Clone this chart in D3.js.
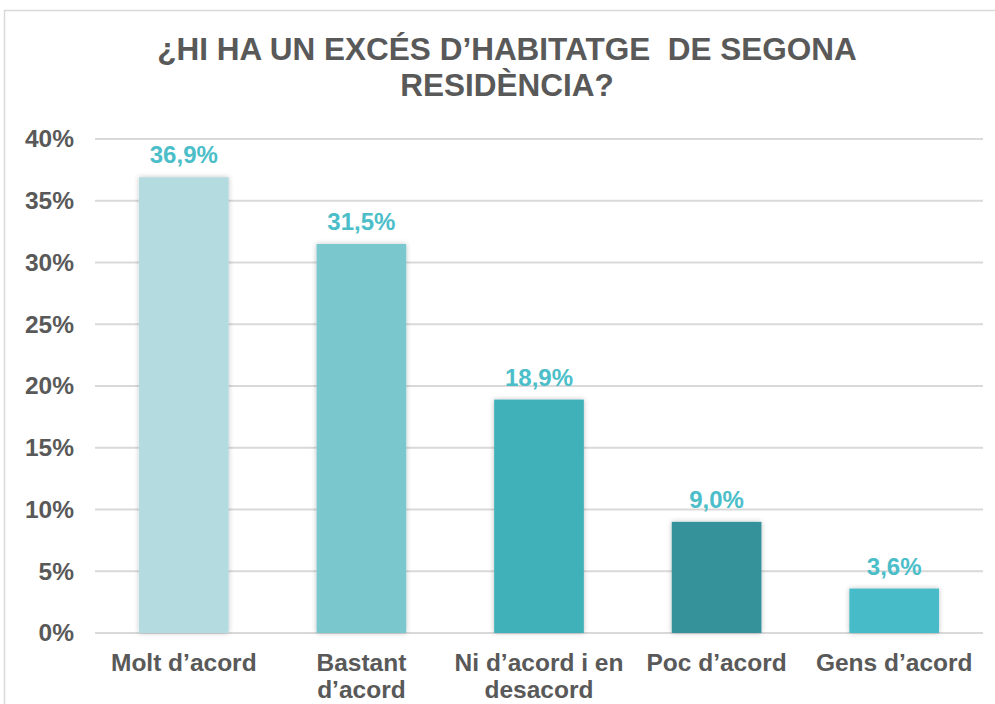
<!DOCTYPE html>
<html>
<head>
<meta charset="utf-8">
<script src="https://cdn.jsdelivr.net/npm/d3@7"></script>
<style>
  body { margin: 0; background: #fff; }
  text { font-family: "Liberation Sans", Arial, sans-serif; }
</style>
</head>
<body>
<svg id="chart" width="995" height="704"></svg>
<script>
const categories = [["Molt d’acord"], ["Bastant", "d’acord"], ["Ni d’acord i en", "desacord"], ["Poc d’acord"], ["Gens d’acord"]];
const values = [36.9, 31.5, 18.9, 9.0, 3.6];
const barColors = ["#b4dce0", "#7ac7ce", "#40b0b9", "#36919a", "#47bcc8"];
const yTicks = [0, 5, 10, 15, 20, 25, 30, 35, 40];
const titleLines = ["¿HI HA UN EXCÉS D’HABITATGE  DE SEGONA", "RESIDÈNCIA?"];

const svg = d3.select("#chart");
const textColor = "#595959";

// chart frame
svg.append("rect")
    .attr("x", 4.5).attr("y", 10.5)
    .attr("width", 1000).attr("height", 700)
    .attr("fill", "#fff")
    .attr("stroke", "#d9d9d9")
    .attr("stroke-width", 1.5);

const defs = svg.append("defs");
const shadow = defs.append("filter").attr("id", "shadow")
    .attr("x", "-20%").attr("y", "-20%").attr("width", "140%").attr("height", "140%");
shadow.append("feDropShadow")
    .attr("dx", 0).attr("dy", 0).attr("stdDeviation", 2.5)
    .attr("flood-color", "#000").attr("flood-opacity", 0.25);

// title
svg.append("text")
    .attr("x", 507).attr("y", 60)
    .attr("text-anchor", "middle")
    .style("white-space", "pre")
    .style("font-size", "31.5px").style("font-weight", "bold")
    .attr("fill", textColor)
    .selectAll("tspan").data(titleLines).enter().append("tspan")
    .attr("x", 507).attr("dy", (d, i) => i ? 36 : 0)
    .text(d => d);

const x = d3.scaleBand()
    .domain(d3.range(values.length))
    .range([95, 983])
    .paddingInner(0.495).paddingOuter(0.2475);

const y = d3.scaleLinear().domain([0, 40]).range([633, 139]);

// gridlines
svg.append("g")
    .selectAll("line").data(yTicks).enter().append("line")
    .attr("x1", 95).attr("x2", 983)
    .attr("y1", d => y(d)).attr("y2", d => y(d))
    .attr("stroke", "#d9d9d9").attr("stroke-width", 2);

// y axis labels
const yAxis = svg.append("g")
    .attr("transform", "translate(74,0)")
    .call(d3.axisLeft(y).tickValues(yTicks).tickSize(0).tickPadding(0).tickFormat(d => d + "%"));
yAxis.select(".domain").remove();
yAxis.selectAll("text")
    .attr("fill", textColor)
    .style("font-size", "24.5px").style("font-weight", "bold")
    .style("font-family", "'Liberation Sans', Arial, sans-serif");

// bars
svg.append("g")
    .selectAll("rect").data(values).enter().append("rect")
    .attr("x", (d, i) => x(i))
    .attr("y", d => y(d))
    .attr("width", x.bandwidth())
    .attr("height", d => y(0) - y(d))
    .attr("fill", (d, i) => barColors[i])
    .attr("filter", "url(#shadow)");

// value labels
svg.append("g")
    .selectAll("text").data(values).enter().append("text")
    .attr("x", (d, i) => x(i) + x.bandwidth() / 2)
    .attr("y", d => y(d) - 14)
    .attr("text-anchor", "middle")
    .attr("fill", "#4bbec9")
    .style("font-size", "24px").style("font-weight", "bold")
    .text(d => d.toFixed(1).replace(".", ",") + "%");

// category labels
const cat = svg.append("g")
    .selectAll("text").data(categories).enter().append("text")
    .attr("x", (d, i) => x(i) + x.bandwidth() / 2)
    .attr("y", 671)
    .attr("text-anchor", "middle")
    .attr("fill", textColor)
    .style("font-size", "24.5px").style("font-weight", "bold");
cat.selectAll("tspan").data(d => d).enter().append("tspan")
    .attr("x", function () { return d3.select(this.parentNode).attr("x"); })
    .attr("dy", (d, i) => i ? 27 : 0)
    .text(d => d);
</script>
</body>
</html>
